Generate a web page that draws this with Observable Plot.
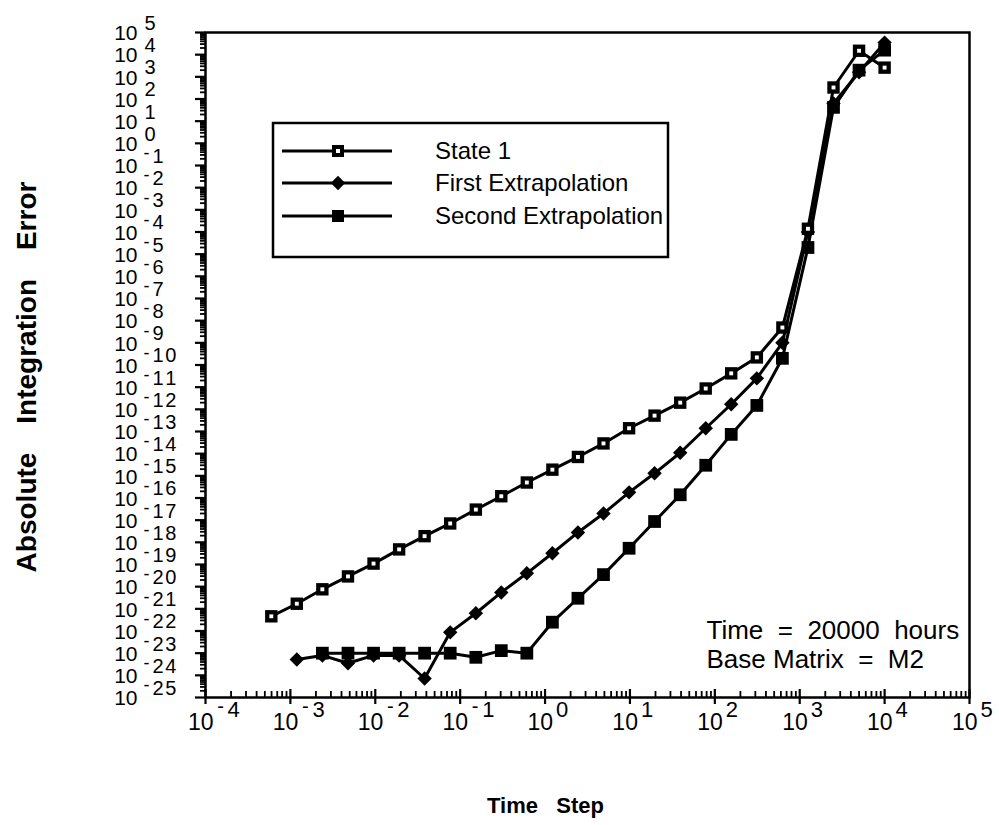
<!DOCTYPE html>
<html><head><meta charset="utf-8">
<script src="https://cdn.jsdelivr.net/npm/d3@7"></script>
<script src="https://cdn.jsdelivr.net/npm/@observablehq/plot@0.6"></script>
<style>
body{margin:0;background:#fff;}
#wrap{position:relative;width:999px;height:825px;}
#legend{position:absolute;left:0;top:0;pointer-events:none;}
</style></head><body><div id="wrap"></div>
<script>
// Time step (hours) for each run
const timeSteps = [5.96e-4, 1.19e-3, 2.38e-3, 4.77e-3, 9.54e-3, 1.91e-2, 3.81e-2, 7.63e-2, 0.153, 0.305, 0.610, 1.22, 2.44, 4.88, 9.77, 19.5, 39.1, 78.1, 156, 312.5, 625, 1250, 2500, 5000, 10000];
// Absolute integration error, State 1 (all 25 steps)
const state1 = [4.6e-22, 1.7e-21, 7.6e-21, 2.9e-20, 1.1e-19, 4.8e-19, 1.9e-18, 7.1e-18, 3.0e-17, 1.2e-16, 5.0e-16, 1.9e-15, 7.1e-15, 2.9e-14, 1.4e-13, 5.2e-13, 2.0e-12, 8.7e-12, 4.2e-11, 2.2e-10, 4.9e-9, 1.4e-4, 3.3e2, 1.5e4, 2.6e3];
// First extrapolation (starts at second time step)
const firstExtrap = [5.2e-24, 7.9e-24, 3.5e-24, 7.9e-24, 7.9e-24, 7.2e-25, 8.7e-23, 6.3e-22, 5.5e-21, 4.0e-20, 3.2e-19, 2.8e-18, 2.0e-17, 1.8e-16, 1.3e-15, 1.1e-14, 1.4e-13, 1.7e-12, 2.5e-11, 1.0e-9, 1.0e-4, 63, 1.6e3, 3.5e4];
// Second extrapolation (starts at third time step)
const secondExtrap = [1.0e-23, 1.0e-23, 1.0e-23, 1.0e-23, 1.0e-23, 1.0e-23, 6.5e-24, 1.3e-23, 1.0e-23, 2.5e-22, 3.0e-21, 3.5e-20, 5.4e-19, 8.7e-18, 1.4e-16, 3.0e-15, 7.4e-14, 1.5e-12, 2.0e-10, 2.0e-5, 42, 2.0e3, 1.6e4];

const seriesNames = ["State 1", "First Extrapolation", "Second Extrapolation"];
const xTickExps = [-4, -3, -2, -1, 0, 1, 2, 3, 4, 5];
const yTickExps = [5, 4, 3, 2, 1, 0, -1, -2, -3, -4, -5, -6, -7, -8, -9, -10, -11, -12, -13, -14, -15, -16, -17, -18, -19, -20, -21, -22, -23, -24, -25];
const annotationLines = ["Time\u00a0\u00a0=\u00a0\u00a020000\u00a0\u00a0hours", "Base\u00a0Matrix\u00a0\u00a0=\u00a0\u00a0M2"];
const yTitle = "Absolute\u00a0\u00a0\u00a0\u2009Integration\u00a0\u00a0\u00a0\u2009Error";
const xTitle = "Time\u00a0\u00a0\u00a0Step";

const s1 = state1.map((v, i) => ({x: timeSteps[i], y: v}));
const f1 = firstExtrap.map((v, i) => ({x: timeSteps[i + 1], y: v}));
const f2 = secondExtrap.map((v, i) => ({x: timeSteps[i + 2], y: v}));

const minorX = [];
xTickExps.slice(0, -1).forEach(e => { for (let m = 2; m <= 9; m++) minorX.push(m * 10 ** e); });
const minorY = [];
yTickExps.slice(1).forEach(e => { for (let m = 2; m <= 9; m++) minorY.push(m * 10 ** e); });
const majorX = xTickExps.map(e => 10 ** e);
const majorY = yTickExps.map(e => 10 ** e);

const FONT = "Liberation Sans, Arial, Helvetica, sans-serif";
const blank = () => "";
const spaced = e => String(Math.abs(e)).split("").join("\u200a");

const chart = Plot.plot({
  width: 999, height: 825,
  marginLeft: 205, marginRight: 30, marginTop: 32, marginBottom: 128,
  style: {fontFamily: FONT, background: "#fff", color: "#000"},
  x: {type: "log", domain: [1e-4, 1e5]},
  y: {type: "log", domain: [1e-25, 1e5]},
  marks: [
    Plot.frame({stroke: "#000", strokeWidth: 2.5}),
    // axes ticks
    Plot.axisX({ticks: majorX, tickSize: 7, tickFormat: blank, label: null, strokeWidth: 2.2}),
    Plot.axisX({ticks: majorX, tickSize: 8, dy: -8, tickFormat: blank, label: null, strokeWidth: 2.2}),
    Plot.axisX({ticks: minorX, tickSize: 6, dy: -6, tickFormat: blank, label: null, strokeWidth: 1.8}),
    Plot.axisY({ticks: majorY, tickSize: 10, tickFormat: blank, label: null, strokeWidth: 2.2}),
    Plot.axisY({ticks: minorY, tickSize: 5, tickFormat: blank, label: null, strokeWidth: 1.8}),
    // x tick labels
    Plot.text(xTickExps, {x: e => 10 ** e, frameAnchor: "bottom", text: () => "10", textAnchor: "end", dx: 8, dy: 25, lineAnchor: "middle", fontSize: 23}),
    Plot.text(xTickExps.filter(e => e < 0), {x: e => 10 ** e, frameAnchor: "bottom", text: () => "-", textAnchor: "middle", dx: 15, dy: 9, lineAnchor: "middle", fontSize: 20}),
    Plot.text(xTickExps.filter(e => e < 0), {x: e => 10 ** e, frameAnchor: "bottom", text: spaced, textAnchor: "start", dx: 22, dy: 12, lineAnchor: "middle", fontSize: 22}),
    Plot.text(xTickExps.filter(e => e >= 0), {x: e => 10 ** e, frameAnchor: "bottom", text: spaced, textAnchor: "start", dx: 11, dy: 12, lineAnchor: "middle", fontSize: 22}),
    // y tick labels
    Plot.text(yTickExps, {y: e => 10 ** e, frameAnchor: "left", text: () => "10", textAnchor: "end", dx: -68, dy: 1, lineAnchor: "middle", fontSize: 21}),
    Plot.text(yTickExps.filter(e => e < 0), {y: e => 10 ** e, frameAnchor: "left", text: () => "-", textAnchor: "middle", dx: -59, dy: -12, lineAnchor: "middle", fontSize: 18}),
    Plot.text(yTickExps.filter(e => e < 0), {y: e => 10 ** e, frameAnchor: "left", text: spaced, textAnchor: "start", dx: -53, dy: -9, lineAnchor: "middle", fontSize: 20}),
    Plot.text(yTickExps.filter(e => e >= 0), {y: e => 10 ** e, frameAnchor: "left", text: spaced, textAnchor: "start", dx: -61, dy: -9, lineAnchor: "middle", fontSize: 20}),
    // data
    Plot.line(s1, {x: "x", y: "y", stroke: "#000", strokeWidth: 3}),
    Plot.line(f1, {x: "x", y: "y", stroke: "#000", strokeWidth: 3}),
    Plot.line(f2, {x: "x", y: "y", stroke: "#000", strokeWidth: 3}),
    Plot.dot(f2, {x: "x", y: "y", symbol: "square", r: 7.2, fill: "#000"}),
    Plot.dot(f1, {x: "x", y: "y", symbol: "diamond2", r: 6.5, fill: "#000"}),
    Plot.dot(s1, {x: "x", y: "y", symbol: "square", r: 7, fill: "#000"}),
    Plot.dot(s1, {x: "x", y: "y", symbol: "square", r: 2.2, fill: "#fff"}),
    // annotation
    Plot.text([annotationLines[0]], {frameAnchor: "bottom-right", text: d => d, textAnchor: "start", dx: -263, dy: -67, lineAnchor: "middle", fontSize: 26}),
    Plot.text([annotationLines[1]], {frameAnchor: "bottom-right", text: d => d, textAnchor: "start", dx: -263, dy: -38, lineAnchor: "middle", fontSize: 26}),
    // axis titles
    Plot.text([yTitle], {frameAnchor: "left", text: d => d, rotate: -90, dx: -178, dy: 12, lineAnchor: "middle", textAnchor: "middle", fontSize: 28, fontWeight: "bold"}),
    Plot.text([xTitle], {frameAnchor: "bottom", text: d => d, dx: -42, dy: 108, lineAnchor: "middle", textAnchor: "middle", fontSize: 22, fontWeight: "bold"})
  ]
});
document.getElementById("wrap").appendChild(chart);

// Legend box
const lg = d3.select("#wrap").append("svg").attr("id", "legend").attr("width", 999).attr("height", 825)
  .style("font-family", FONT);
lg.append("rect").attr("x", 273).attr("y", 123).attr("width", 395).attr("height", 134)
  .attr("fill", "#fff").attr("stroke", "#000").attr("stroke-width", 2.5);
const rowsY = [151, 183, 216];
seriesNames.forEach((name, i) => {
  const y = rowsY[i];
  lg.append("line").attr("x1", 282).attr("x2", 392).attr("y1", y).attr("y2", y).attr("stroke", "#000").attr("stroke-width", 3);
  if (i === 1) {
    lg.append("path").attr("d", d3.symbol(d3.symbolDiamond2, Math.PI * 42)()).attr("transform", `translate(338,${y})`).attr("fill", "#000");
  } else {
    const s = 12;
    lg.append("rect").attr("x", 338 - s / 2).attr("y", y - s / 2).attr("width", s).attr("height", s).attr("fill", "#000");
    if (i === 0) lg.append("rect").attr("x", 336).attr("y", y - 2).attr("width", 4).attr("height", 4).attr("fill", "#fff");
  }
  lg.append("text").attr("x", 435).attr("y", y).attr("dy", "0.35em").attr("font-size", 24).text(name);
});
</script></body></html>
